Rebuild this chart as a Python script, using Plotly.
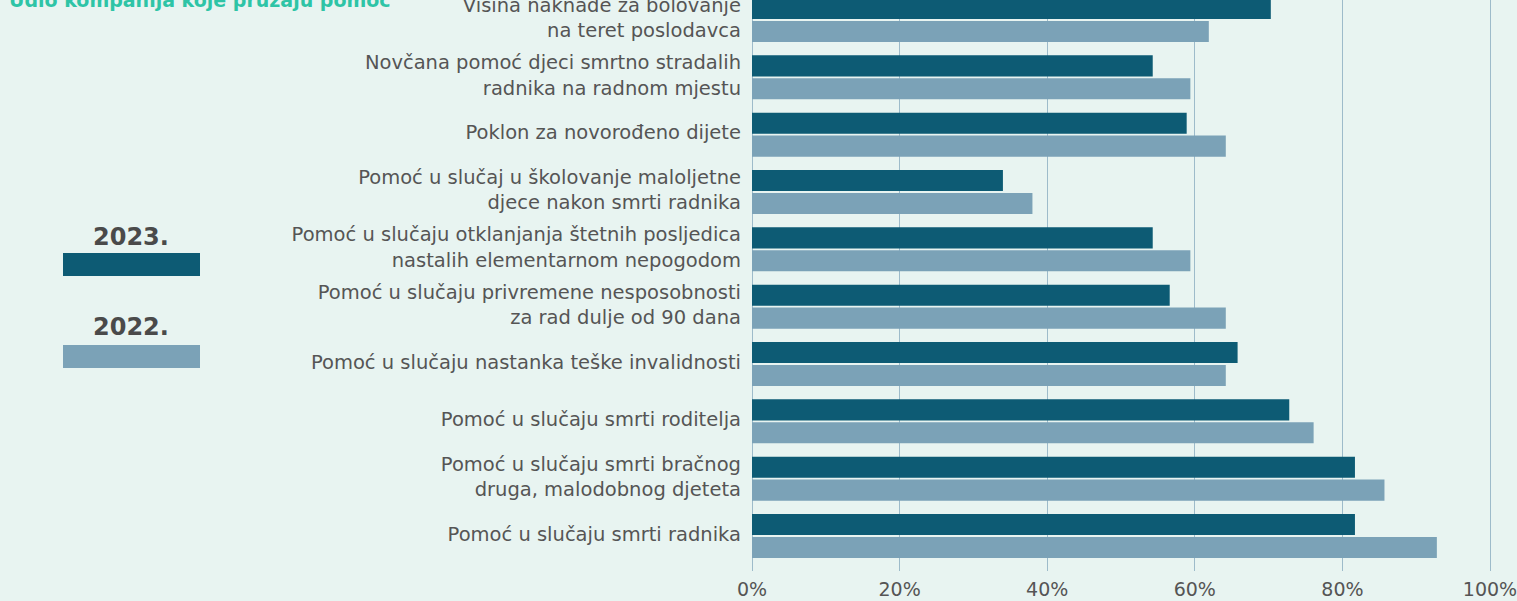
import plotly.graph_objects as go

# Benefit categories, listed top to bottom
categories = [
    "Visina naknade za bolovanje<br>na teret poslodavca",
    "Novčana pomoć djeci smrtno stradalih<br>radnika na radnom mjestu",
    "Poklon za novorođeno dijete",
    "Pomoć u slučaj u školovanje maloljetne<br>djece nakon smrti radnika",
    "Pomoć u slučaju otklanjanja štetnih posljedica<br>nastalih elementarnom nepogodom",
    "Pomoć u slučaju privremene nesposobnosti<br>za rad dulje od 90 dana",
    "Pomoć u slučaju nastanka teške invalidnosti",
    "Pomoć u slučaju smrti roditelja",
    "Pomoć u slučaju smrti bračnog<br>druga, malodobnog djeteta",
    "Pomoć u slučaju smrti radnika",
]

# Share of companies providing each benefit (%)
share_2023 = [70.3, 54.3, 58.9, 34.0, 54.3, 56.6, 65.8, 72.8, 81.7, 81.7]
share_2022 = [61.9, 59.4, 64.2, 38.0, 59.4, 64.2, 64.2, 76.1, 85.7, 92.8]

year_labels = ["2023.", "2022."]
tick_vals = [0, 20, 40, 60, 80, 100]
tick_text = ["0%", "20%", "40%", "60%", "80%", "100%"]

BG = "#e8f4f1"
DARK = "#0d5b74"
LIGHT = "#7ba2b7"
GRID = "#9dbbca"
TEXT = "#555555"
FONT = "DejaVu Sans"

W, H = 1517, 601
ML, MR, MT, MB = 752, 0, 0, 30
PW, PH = W - ML - MR, H - MT - MB


def px_x(p):
    return (p - ML) / PW


def px_y(p):
    return (H - MB - p) / PH


fig = go.Figure()
fig.add_trace(go.Bar(y=categories, x=share_2023, orientation="h", name=year_labels[0],
                     marker=dict(color=DARK, line=dict(width=0))))
fig.add_trace(go.Bar(y=categories, x=share_2022, orientation="h", name=year_labels[1],
                     marker=dict(color=LIGHT, line=dict(width=0))))

# Hand-drawn key on the left
key_boxes = [(253, 276, DARK), (345, 368, LIGHT)]
key_text_y = [237, 327]
shapes = []
annotations = []
for (y0, y1, col), ty, lab in zip(key_boxes, key_text_y, year_labels):
    shapes.append(dict(type="rect", xref="paper", yref="paper",
                       x0=px_x(63), x1=px_x(200), y0=px_y(y1), y1=px_y(y0),
                       fillcolor=col, line=dict(width=0), layer="above"))
    annotations.append(dict(xref="paper", yref="paper", x=px_x(131), y=px_y(ty),
                            text=f"<b>{lab}</b>", showarrow=False,
                            xanchor="center", yanchor="middle",
                            font=dict(family=FONT, size=24, color="#4a4a4a")))

annotations.append(dict(xref="paper", yref="paper", x=px_x(7), y=px_y(13),
                        text="<b>Udio kompanija koje pružaju pomoć</b>", showarrow=False,
                        xanchor="left", yanchor="bottom",
                        font=dict(family=FONT, size=19, color="#2ec4a6")))

px_per_pct = (1490 - 752) / 100.0
slot = 57.33
top_val = -20.0 / slot
bot_val = (PH - 20.0) / slot

fig.update_layout(
    width=W, height=H,
    margin=dict(l=ML, r=MR, t=MT, b=MB, pad=0, autoexpand=False),
    paper_bgcolor=BG, plot_bgcolor=BG,
    barmode="group", bargap=0.2, bargroupgap=0.08,
    showlegend=False,
    font=dict(family=FONT, color=TEXT),
    shapes=shapes, annotations=annotations,
    xaxis=dict(range=[0, PW / px_per_pct], tickvals=tick_vals, ticktext=tick_text,
               automargin=False, ticklabeloverflow="allow",
               showgrid=True, gridcolor=GRID, gridwidth=1.2,
               zeroline=True, zerolinecolor=GRID, zerolinewidth=1.2,
               showline=False, ticks="", ticklabelstandoff=5,
               tickfont=dict(size=19, color=TEXT, family=FONT)),
    yaxis=dict(type="category", categoryorder="array", categoryarray=categories,
               automargin=False, ticklabeloverflow="allow",
               range=[bot_val, top_val], showgrid=False, zeroline=False, showline=False,
               ticks="", ticklabelstandoff=10, ticklabelshift=2,
               tickfont=dict(size=19.5, color=TEXT, family=FONT)),
)

fig.write_html("out.html")
